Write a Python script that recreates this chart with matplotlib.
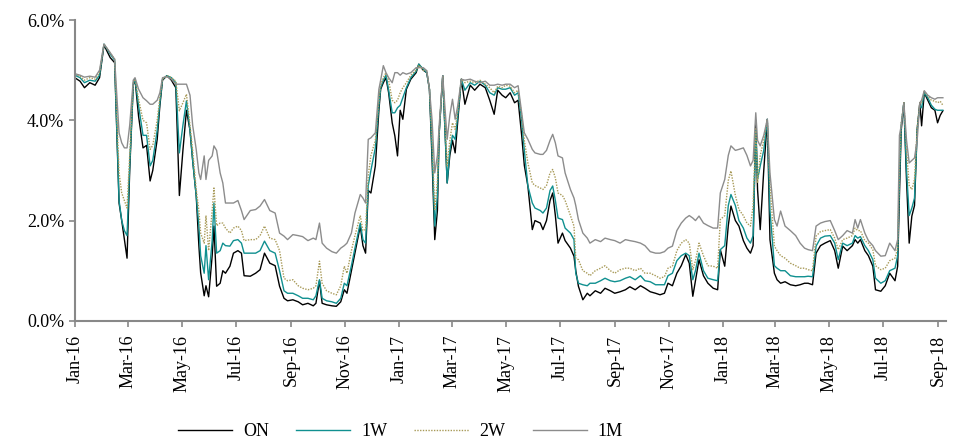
import matplotlib
matplotlib.use("Agg")
import matplotlib.pyplot as plt
import matplotlib.dates as mdates
from matplotlib.ticker import FuncFormatter
import pandas as pd

# days since 2016-01-01 for each observation
day_offset = [0, 6, 11, 17, 23, 28, 33, 40, 45, 50, 53, 56, 59, 62, 66, 68, 72, 77, 81, 85,
              88, 93, 96, 99, 104, 109, 114, 118, 122, 126, 130, 133, 137, 140, 142, 146, 148, 151, 155, 157,
              160, 164, 167, 170, 175, 179, 184, 188, 191, 198, 204, 209, 214, 220, 226, 231, 236, 240, 246, 252,
              257, 263, 269, 272, 276, 279, 284, 290, 295, 300, 304, 307, 312, 316, 322, 325, 328, 331, 334, 339,
              343, 345, 348, 351, 354, 358, 361, 364, 367, 370, 374, 379, 385, 388, 393, 397, 400, 403, 406, 409,
              411, 415, 420, 423, 426, 429, 432, 436, 440, 446, 451, 457, 463, 468, 473, 477, 482, 486, 491, 496,
              500, 504, 507, 511, 516, 519, 525, 528, 532, 536, 539, 542, 545, 550, 553, 559, 563, 565, 568, 573,
              578, 581, 587, 593, 598, 604, 609, 615, 621, 626, 632, 638, 643, 649, 655, 660, 665, 669, 674, 679,
              684, 689, 693, 697, 700, 704, 709, 714, 720, 725, 728, 733, 737, 740, 745, 749, 754, 758, 762, 765,
              768, 770, 773, 777, 781, 784, 789, 792, 796, 801, 807, 813, 818, 823, 827, 832, 836, 841, 846, 852,
              857, 861, 866, 871, 877, 880, 883, 886, 891, 895, 900, 903, 909, 914, 919, 925, 928, 930, 932, 935,
              938, 941, 944, 947, 950, 953, 955, 958, 962, 966, 970, 973, 976, 979]

on = [4.85, 4.78, 4.65, 4.75, 4.70, 4.85, 5.50, 5.25, 5.15, 2.35, 2.00, 1.62, 1.25, 3.00, 4.70, 4.82, 4.08, 3.45, 3.50, 2.79,
      3.00, 3.62, 4.29, 4.80, 4.89, 4.80, 4.65, 2.50, 3.40, 4.20, 3.80, 3.20, 2.50, 1.50, 0.96, 0.50, 0.70, 0.48, 1.30, 1.89,
      0.69, 0.75, 1.00, 0.95, 1.09, 1.35, 1.40, 1.35, 0.90, 0.89, 0.95, 1.02, 1.35, 1.15, 1.10, 0.69, 0.45, 0.40, 0.42, 0.38,
      0.32, 0.35, 0.30, 0.35, 0.80, 0.35, 0.32, 0.30, 0.29, 0.38, 0.62, 0.55, 1.00, 1.35, 1.89, 1.50, 1.35, 2.60, 2.55, 3.09,
      4.20, 4.62, 4.75, 4.85, 4.55, 3.95, 3.69, 3.29, 4.20, 4.02, 4.62, 4.82, 4.95, 5.12, 5.00, 4.95, 4.62, 3.20, 1.62, 2.20,
      3.75, 4.89, 2.75, 3.30, 3.60, 3.35, 4.00, 4.82, 4.32, 4.70, 4.60, 4.72, 4.65, 4.40, 4.12, 4.60, 4.50, 4.45, 4.55, 4.35,
      4.40, 3.70, 3.10, 2.69, 1.82, 2.00, 1.95, 1.82, 2.00, 2.40, 2.55, 2.10, 1.55, 1.75, 1.60, 1.45, 1.29, 1.00, 0.69, 0.42,
      0.55, 0.50, 0.60, 0.55, 0.65, 0.60, 0.55, 0.58, 0.62, 0.68, 0.62, 0.70, 0.65, 0.58, 0.55, 0.52, 0.55, 0.75, 0.70, 0.95,
      1.10, 1.32, 1.15, 0.49, 0.80, 1.22, 0.90, 0.75, 0.65, 0.62, 1.42, 1.09, 1.90, 2.29, 2.00, 1.89, 1.60, 1.45, 1.35, 1.50,
      4.00, 2.62, 1.82, 3.00, 4.02, 1.62, 0.95, 0.82, 0.75, 0.78, 0.72, 0.70, 0.72, 0.75, 0.75, 0.72, 1.35, 1.50, 1.55, 1.60,
      1.40, 1.05, 1.49, 1.40, 1.50, 1.62, 1.55, 1.62, 1.40, 1.30, 1.09, 0.62, 0.59, 0.70, 0.95, 0.80, 1.09, 2.50, 3.80, 4.35,
      2.80, 1.55, 2.09, 2.30, 3.82, 4.35, 3.89, 4.55, 4.40, 4.25, 4.20, 3.95, 4.10, 4.19]

w1 = [4.90, 4.85, 4.75, 4.80, 4.78, 4.90, 5.52, 5.32, 5.20, 2.40, 2.00, 1.80, 1.70, 3.10, 4.72, 4.82, 4.29, 3.70, 3.70, 3.09,
      3.20, 3.80, 4.35, 4.82, 4.89, 4.85, 4.75, 3.35, 3.90, 4.39, 3.80, 3.20, 2.49, 1.90, 1.30, 0.95, 1.50, 0.82, 1.60, 2.35,
      1.35, 1.40, 1.55, 1.50, 1.49, 1.60, 1.62, 1.55, 1.35, 1.35, 1.35, 1.40, 1.59, 1.40, 1.35, 1.00, 0.60, 0.55, 0.55, 0.50,
      0.45, 0.45, 0.42, 0.50, 0.82, 0.45, 0.40, 0.38, 0.35, 0.45, 0.75, 0.70, 1.10, 1.45, 1.95, 1.62, 1.55, 2.70, 3.00, 3.45,
      4.30, 4.65, 4.80, 4.90, 4.60, 4.15, 4.15, 4.25, 4.30, 4.45, 4.65, 4.85, 4.98, 5.12, 5.02, 4.95, 4.62, 3.40, 1.89, 2.50,
      3.75, 4.89, 2.75, 3.40, 3.70, 3.62, 4.10, 4.82, 4.60, 4.75, 4.70, 4.78, 4.70, 4.55, 4.50, 4.65, 4.62, 4.62, 4.65, 4.50,
      4.55, 4.00, 3.40, 2.69, 2.35, 2.25, 2.20, 2.15, 2.25, 2.60, 2.69, 2.40, 2.05, 2.02, 1.85, 1.75, 1.62, 0.95, 0.75, 0.72,
      0.70, 0.75, 0.75, 0.80, 0.85, 0.80, 0.78, 0.80, 0.85, 0.88, 0.82, 0.90, 0.80, 0.78, 0.72, 0.72, 0.72, 0.90, 0.95, 1.20,
      1.30, 1.35, 1.30, 0.82, 1.00, 1.35, 1.00, 0.85, 0.82, 0.80, 1.42, 1.50, 2.30, 2.52, 2.30, 2.00, 1.85, 1.65, 1.55, 1.70,
      3.80, 2.82, 3.09, 3.40, 4.02, 2.20, 1.10, 1.05, 1.00, 1.00, 0.90, 0.88, 0.88, 0.88, 0.89, 0.88, 1.49, 1.65, 1.69, 1.70,
      1.55, 1.22, 1.55, 1.50, 1.55, 1.70, 1.65, 1.68, 1.50, 1.40, 1.22, 0.85, 0.75, 0.80, 1.00, 1.05, 1.30, 2.80, 3.90, 4.35,
      3.00, 2.10, 2.25, 2.45, 3.80, 4.30, 4.25, 4.55, 4.45, 4.30, 4.22, 4.20, 4.20, 4.20]

w2 = [4.92, 4.88, 4.80, 4.85, 4.82, 4.95, 5.52, 5.34, 5.22, 2.95, 2.55, 2.40, 2.25, 3.30, 4.75, 4.82, 4.42, 4.00, 3.95, 3.42,
      3.50, 4.00, 4.45, 4.82, 4.89, 4.85, 4.78, 4.19, 4.35, 4.52, 3.90, 3.40, 2.62, 2.20, 1.75, 1.55, 2.10, 1.40, 2.20, 2.65,
      1.90, 1.95, 1.95, 1.85, 1.75, 1.85, 1.89, 1.80, 1.60, 1.62, 1.62, 1.70, 1.89, 1.65, 1.62, 1.40, 0.85, 0.80, 0.82, 0.70,
      0.65, 0.62, 0.65, 0.70, 1.19, 0.75, 0.60, 0.55, 0.52, 0.70, 1.09, 0.95, 1.40, 1.70, 2.10, 1.80, 1.82, 2.90, 3.30, 3.60,
      4.40, 4.70, 4.85, 4.95, 4.80, 4.40, 4.35, 4.40, 4.55, 4.65, 4.75, 4.90, 5.00, 5.10, 5.00, 4.98, 4.62, 3.60, 2.22, 2.80,
      3.80, 4.89, 3.09, 3.60, 3.95, 3.82, 4.20, 4.82, 4.75, 4.78, 4.75, 4.80, 4.72, 4.65, 4.55, 4.68, 4.65, 4.70, 4.68, 4.55,
      4.60, 4.10, 3.60, 3.15, 2.75, 2.70, 2.65, 2.62, 2.70, 2.95, 3.02, 2.85, 2.55, 2.50, 2.40, 2.10, 1.89, 1.25, 1.22, 1.00,
      0.95, 0.90, 1.00, 1.05, 1.10, 1.00, 0.95, 1.02, 1.05, 1.05, 1.00, 1.05, 0.95, 0.95, 0.90, 0.85, 0.88, 1.05, 1.09, 1.40,
      1.55, 1.62, 1.55, 1.02, 1.20, 1.55, 1.30, 1.10, 1.09, 1.05, 2.02, 2.10, 2.80, 2.99, 2.50, 2.22, 2.10, 1.95, 1.89, 2.30,
      3.85, 2.75, 3.30, 3.60, 4.02, 2.70, 1.49, 1.40, 1.30, 1.25, 1.15, 1.10, 1.05, 1.05, 1.02, 1.00, 1.69, 1.78, 1.80, 1.82,
      1.65, 1.42, 1.62, 1.65, 1.70, 1.85, 1.80, 1.80, 1.60, 1.55, 1.42, 1.10, 1.02, 1.05, 1.20, 1.25, 1.45, 3.00, 3.95, 4.35,
      3.40, 2.70, 2.62, 2.82, 3.85, 4.35, 4.35, 4.58, 4.48, 4.40, 4.38, 4.35, 4.38, 4.30]

m1 = [4.93, 4.90, 4.86, 4.88, 4.86, 5.00, 5.52, 5.35, 5.22, 3.75, 3.55, 3.45, 3.45, 3.90, 4.80, 4.85, 4.62, 4.45, 4.39, 4.32,
      4.32, 4.40, 4.55, 4.85, 4.87, 4.82, 4.72, 4.72, 4.72, 4.72, 4.50, 3.90, 3.42, 2.95, 2.82, 3.29, 2.82, 3.20, 3.29, 3.49,
      3.40, 2.95, 2.75, 2.35, 2.35, 2.35, 2.40, 2.20, 2.02, 2.20, 2.22, 2.29, 2.42, 2.20, 2.15, 1.75, 1.69, 1.62, 1.72, 1.70,
      1.68, 1.60, 1.65, 1.62, 1.95, 1.55, 1.45, 1.38, 1.35, 1.45, 1.50, 1.55, 1.75, 2.15, 2.52, 2.45, 2.35, 3.62, 3.65, 3.75,
      4.62, 4.80, 5.09, 4.95, 4.85, 4.75, 4.95, 4.95, 4.90, 4.95, 4.92, 4.95, 5.05, 5.05, 5.05, 4.99, 4.62, 4.00, 2.95, 3.30,
      3.90, 4.89, 3.62, 4.10, 4.42, 4.02, 4.30, 4.82, 4.80, 4.82, 4.78, 4.75, 4.78, 4.70, 4.70, 4.72, 4.70, 4.72, 4.72, 4.65,
      4.69, 4.15, 3.75, 3.62, 3.42, 3.35, 3.32, 3.32, 3.40, 3.60, 3.72, 3.55, 3.29, 3.25, 2.95, 2.62, 2.45, 2.30, 2.02, 1.75,
      1.65, 1.55, 1.62, 1.58, 1.65, 1.62, 1.60, 1.55, 1.62, 1.60, 1.58, 1.55, 1.50, 1.38, 1.35, 1.35, 1.38, 1.45, 1.49, 1.80,
      1.95, 2.05, 2.10, 2.05, 2.00, 2.09, 1.95, 1.90, 1.85, 1.85, 2.55, 2.82, 3.30, 3.49, 3.40, 3.42, 3.45, 3.30, 3.09, 3.20,
      4.15, 3.60, 3.49, 3.70, 4.02, 2.95, 2.02, 1.89, 2.19, 1.89, 1.80, 1.70, 1.55, 1.45, 1.42, 1.40, 1.89, 1.95, 1.98, 2.00,
      1.80, 1.62, 1.70, 1.80, 1.75, 2.02, 1.85, 2.02, 1.75, 1.60, 1.50, 1.40, 1.29, 1.30, 1.55, 1.40, 1.62, 3.70, 3.89, 4.35,
      3.60, 3.15, 3.20, 3.25, 3.60, 4.35, 4.40, 4.59, 4.50, 4.45, 4.42, 4.45, 4.45, 4.45]

series = [("ON", on, "#000000", "-", 1.0),
          ("1W", w1, "#109090", "-", 1.0),
          ("2W", w2, "#a89a58", (0, (1, 1)), 1.0),
          ("1M", m1, "#8c8c8c", "-", 1.0)]

dates = pd.Timestamp("2016-01-01") + pd.to_timedelta(day_offset, unit="D")

plt.rcParams['font.family'] = ['Liberation Serif', 'DejaVu Serif']

fig = plt.figure(figsize=(9.58, 4.45), dpi=100)
ax = fig.add_axes([0.078, 0.279, 0.909, 0.676])

for name, vals, col, ls, lw in series:
    ax.plot(dates, [v / 100 for v in vals], color=col, linestyle=ls, linewidth=lw, label=name)

ax.set_ylim(0, 0.06)
ax.set_yticks([0, 0.02, 0.04, 0.06])
ax.yaxis.set_major_formatter(FuncFormatter(lambda v, p: f"{v*100:.1f}%"))
ax.set_xlim(pd.Timestamp("2016-01-01"), pd.Timestamp("2018-09-09"))
ax.xaxis.set_major_locator(mdates.MonthLocator(bymonth=[1, 3, 5, 7, 9, 11]))
ax.xaxis.set_major_formatter(mdates.DateFormatter("%b-%y"))
plt.setp(ax.get_xticklabels(), rotation=90)

for s in ["top", "right"]:
    ax.spines[s].set_visible(False)
for s in ["left", "bottom"]:
    ax.spines[s].set_color("#888888")
    ax.spines[s].set_linewidth(1.5)
ax.tick_params(axis="both", colors="#888888", labelcolor="black", labelsize=13, width=1.2, length=4)
ax.tick_params(axis="x", pad=6)

fig.legend(loc="lower center", bbox_to_anchor=(0.418, -0.025), ncol=4, frameon=False,
           fontsize=13, handlelength=3.0, handletextpad=0.6, columnspacing=1.5)

fig.savefig("out.png", dpi=100)
